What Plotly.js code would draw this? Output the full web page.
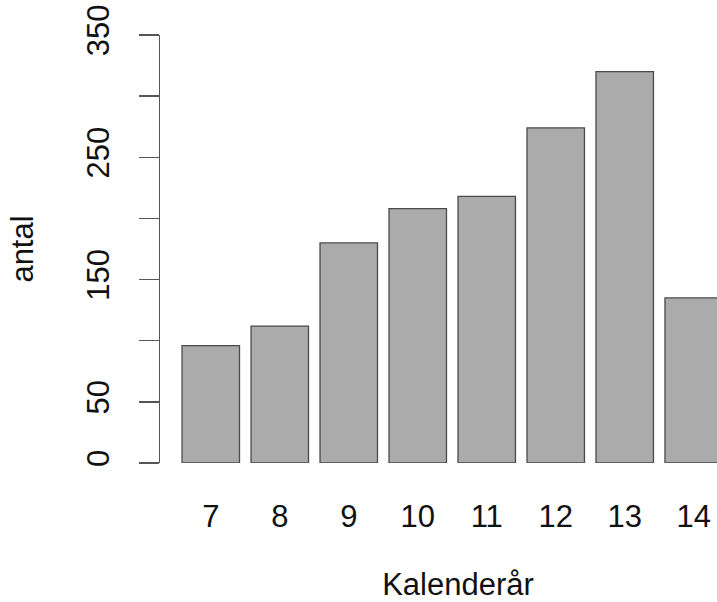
<!DOCTYPE html>
<html><head><meta charset="utf-8">
<script src="https://cdn.plot.ly/plotly-3.0.1.min.js"></script>
<style>html,body{margin:0;padding:0;background:#fff;overflow:hidden;width:717px;height:602px}#chart{width:756px;height:602px}</style>
</head><body><div id="chart"></div>
<script>
const years = [7, 8, 9, 10, 11, 12, 13, 14];
const counts = [96, 112, 180, 208, 218, 274, 320, 135];
const yTickVals = [0, 50, 100, 150, 200, 250, 300, 350];
const yTickText = ["0", "50", "", "150", "", "250", "", "350"];

const trace = {
  type: 'bar', x: years, y: counts, width: 0.833,
  marker: {color: '#ABABAB', line: {color: '#4a4a4a', width: 1.3}},
  hoverinfo: 'none'
};
const font = {family: 'Liberation Sans, Arial, sans-serif', size: 31, color: '#111'};
const layout = {
  width: 756, height: 602,
  margin: {l: 160, r: 0, t: 35, b: 139, pad: 0},
  paper_bgcolor: '#fff', plot_bgcolor: '#fff',
  font: font,
  showlegend: false,
  xaxis: {
    range: [6.264, 14.903], tickmode: 'array', tickvals: years, ticktext: years.map(String),
    showgrid: false, zeroline: false, showline: false, ticks: '', ticklabelstandoff: 32,
    tickfont: font,
    title: {text: 'Kalenderår', font: font, standoff: 48}
  },
  yaxis: {
    range: [0, 350], tickmode: 'array', tickvals: yTickVals, ticktext: yTickText,
    showgrid: false, zeroline: false, showline: true, linecolor: '#555', linewidth: 1.3,
    ticks: 'outside', ticklen: 20, tickwidth: 1.3, tickcolor: '#555',
    tickangle: -90, tickfont: font, ticklabelstandoff: 17,
    title: {text: 'antal', font: font, standoff: 38}
  }
};
Plotly.newPlot('chart', [trace], layout, {staticPlot: true, displayModeBar: false});
</script></body></html>
